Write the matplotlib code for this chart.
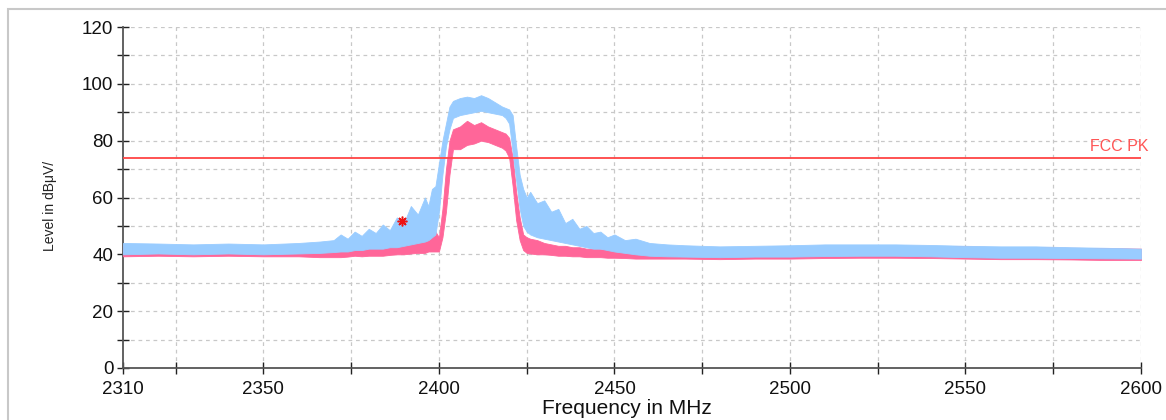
import numpy as np
import matplotlib.pyplot as plt
from matplotlib.patches import Rectangle
from matplotlib.ticker import MultipleLocator, FixedLocator

plt.rcParams['font.family'] = ['Liberation Sans', 'DejaVu Sans']

# frequency grid (MHz) and envelopes (dBuV/m)
freq = [2310, 2320, 2330, 2340, 2350, 2360, 2366, 2370, 2372, 2374,
        2376, 2378, 2380, 2382, 2384, 2386, 2388, 2390, 2392, 2394,
        2396, 2397, 2398, 2399, 2400, 2401, 2402, 2403, 2404, 2406,
        2408, 2410, 2412, 2414, 2416, 2418, 2419, 2420, 2421, 2422,
        2423, 2424, 2425, 2426, 2428, 2430, 2432, 2434, 2436, 2438,
        2440, 2442, 2444, 2446, 2448, 2450, 2453, 2456, 2460, 2465,
        2470, 2480, 2490, 2500, 2510, 2520, 2530, 2540, 2550, 2560,
        2570, 2580, 2590, 2600]

# peak trace (light blue)
pk_hi = [44, 43.8, 43.5, 43.8, 43.5, 44, 44.5, 45, 47, 45.5,
         48, 46.5, 49, 47.5, 50.5, 48.5, 53, 51, 57, 54,
         60, 57, 63, 64, 72, 80, 86, 92, 94, 95,
         95.5, 95, 96, 95, 93.5, 92, 91.5, 91, 89, 78,
         68, 63, 60, 62, 58, 59, 55, 56, 51, 52.5,
         49, 50, 47.5, 48, 46, 47, 45, 45.5, 44, 43.5,
         43.2, 42.8, 43, 43.2, 43.5, 43.5, 43.5, 43.3, 43, 42.8,
         42.8, 42.5, 42.3, 42]
pk_lo = [40, 40.3, 40, 40.3, 40, 40.3, 40.5, 40.8, 41, 41,
         41.5, 41.5, 42, 42, 42, 42.5, 42.5, 43, 43.5, 44,
         44.5, 45, 46, 47, 55, 68, 78, 84, 88, 89,
         89.5, 90, 90.5, 90, 89.5, 89, 88, 86, 76, 66,
         56, 50, 48, 47, 46, 45.5, 45, 44.5, 44, 43.5,
         43, 42.5, 42, 42, 41.5, 41, 40.5, 40, 39.5, 39.3,
         39.2, 39, 39.2, 39.2, 39.4, 39.5, 39.5, 39.3, 39, 38.8,
         38.8, 38.7, 38.6, 38.5]

# average trace (pink)
av_hi = [43.5, 43.2, 43, 43.2, 43, 43, 42.5, 42, 42, 42.5,
         42.5, 42.5, 43, 42.5, 43, 43, 43.5, 43.5, 44, 45,
         46, 46.5, 47, 48, 46, 56, 70, 80, 84, 85,
         87, 85.5, 86.5, 85, 84, 83, 82.5, 81, 74, 62,
         53, 47, 46, 45.5, 45, 44, 43.5, 43, 43, 42.5,
         42.5, 42, 42, 41.8, 41.8, 41.5, 41.5, 41.5, 41.5, 41.5,
         42, 42.2, 42.5, 42.5, 42.8, 43, 43, 43, 42.8, 42.5,
         42.5, 42.3, 42.2, 42]
av_lo = [39.3, 39.5, 39.3, 39.5, 39.3, 39.3, 39, 39, 39, 39.2,
         39.5, 39.3, 39.5, 39.5, 39.5, 39.8, 40, 40, 40.3, 40.5,
         40.5, 41, 41, 41, 41, 46, 55, 68, 77, 77,
         78.5, 79, 80, 79.5, 78.5, 77.5, 76.5, 74, 64, 52,
         45, 41.5, 40.5, 40.3, 40, 40, 39.8, 39.5, 39.5, 39.3,
         39.3, 39, 39, 39, 38.8, 38.8, 38.7, 38.5, 38.5, 38.5,
         38.5, 38.3, 38.5, 38.5, 38.7, 38.8, 38.8, 38.7, 38.5, 38.3,
         38.3, 38.2, 38, 38]

limit_level = 74
limit_name = "FCC PK"
marker_f, marker_level = 2389.5, 51.7

fig = plt.figure(figsize=(11.66, 4.2), dpi=100)
ax = fig.add_axes([123 / 1166, 1 - 368 / 420, (1141 - 123) / 1166, (368 - 27) / 420])

# outer gray frame of the screenshot
fig.patches.append(Rectangle((7.5 / 1166, -0.2), 1.5, 1.2 - 9 / 420,
                             transform=fig.transFigure, fill=False,
                             edgecolor='#c8c8c8', linewidth=1.5))

ax.fill_between(freq, av_lo, av_hi, color='#ff6699', linewidth=0.6,
                edgecolor='#ff6699', zorder=3)
ax.fill_between(freq, pk_lo, pk_hi, color='#99ccff', linewidth=0.6,
                edgecolor='#99ccff', zorder=4)

ax.axhline(limit_level, color='#ff4444', linewidth=1.3, zorder=5)
ax.text(2602, limit_level + 1.2, limit_name, color='#ff5555', fontsize=11.5,
        ha='right', va='bottom', zorder=6)

ax.plot([marker_f], [marker_level], marker=(8, 2, 0), color='#ee1111',
        markersize=7, mew=1.1, linestyle='none', zorder=6)

ax.set_xlim(2310, 2600)
ax.set_ylim(0, 120)

ax.xaxis.set_major_locator(FixedLocator([2310, 2350, 2400, 2450, 2500, 2550, 2600]))
ax.xaxis.set_minor_locator(FixedLocator([2325, 2375, 2425, 2475, 2525, 2575]))
ax.yaxis.set_major_locator(MultipleLocator(20))
ax.yaxis.set_minor_locator(MultipleLocator(10))

for g in range(2325, 2601, 25):
    ax.axvline(g, color='#c8c8c8', linewidth=0.9, linestyle=(0, (3, 3)), zorder=1)
for g in range(10, 121, 10):
    ax.axhline(g, color='#c8c8c8', linewidth=0.9, linestyle=(0, (3, 3)), zorder=1)

for s in ['top', 'right']:
    ax.spines[s].set_visible(False)
for s in ['left', 'bottom']:
    ax.spines[s].set_color('#555555')
    ax.spines[s].set_linewidth(1.3)

ax.tick_params(which='both', direction='inout', length=8, width=1,
               color='#222222', labelsize=13.5, labelcolor='#111111')
ax.tick_params(axis='x', which='major', pad=5)
ax.tick_params(axis='y', which='major', pad=3)

fig.text(50 / 1166, 1 - 206 / 420, "Level in dBμV/", rotation=90,
         fontsize=10, ha='center', va='center', color='#222222')
fig.text(627 / 1166, 1.5 / 420, "Frequency in MHz", fontsize=15,
         ha='center', va='bottom', color='#111111')

fig.savefig("out.png", dpi=100)
